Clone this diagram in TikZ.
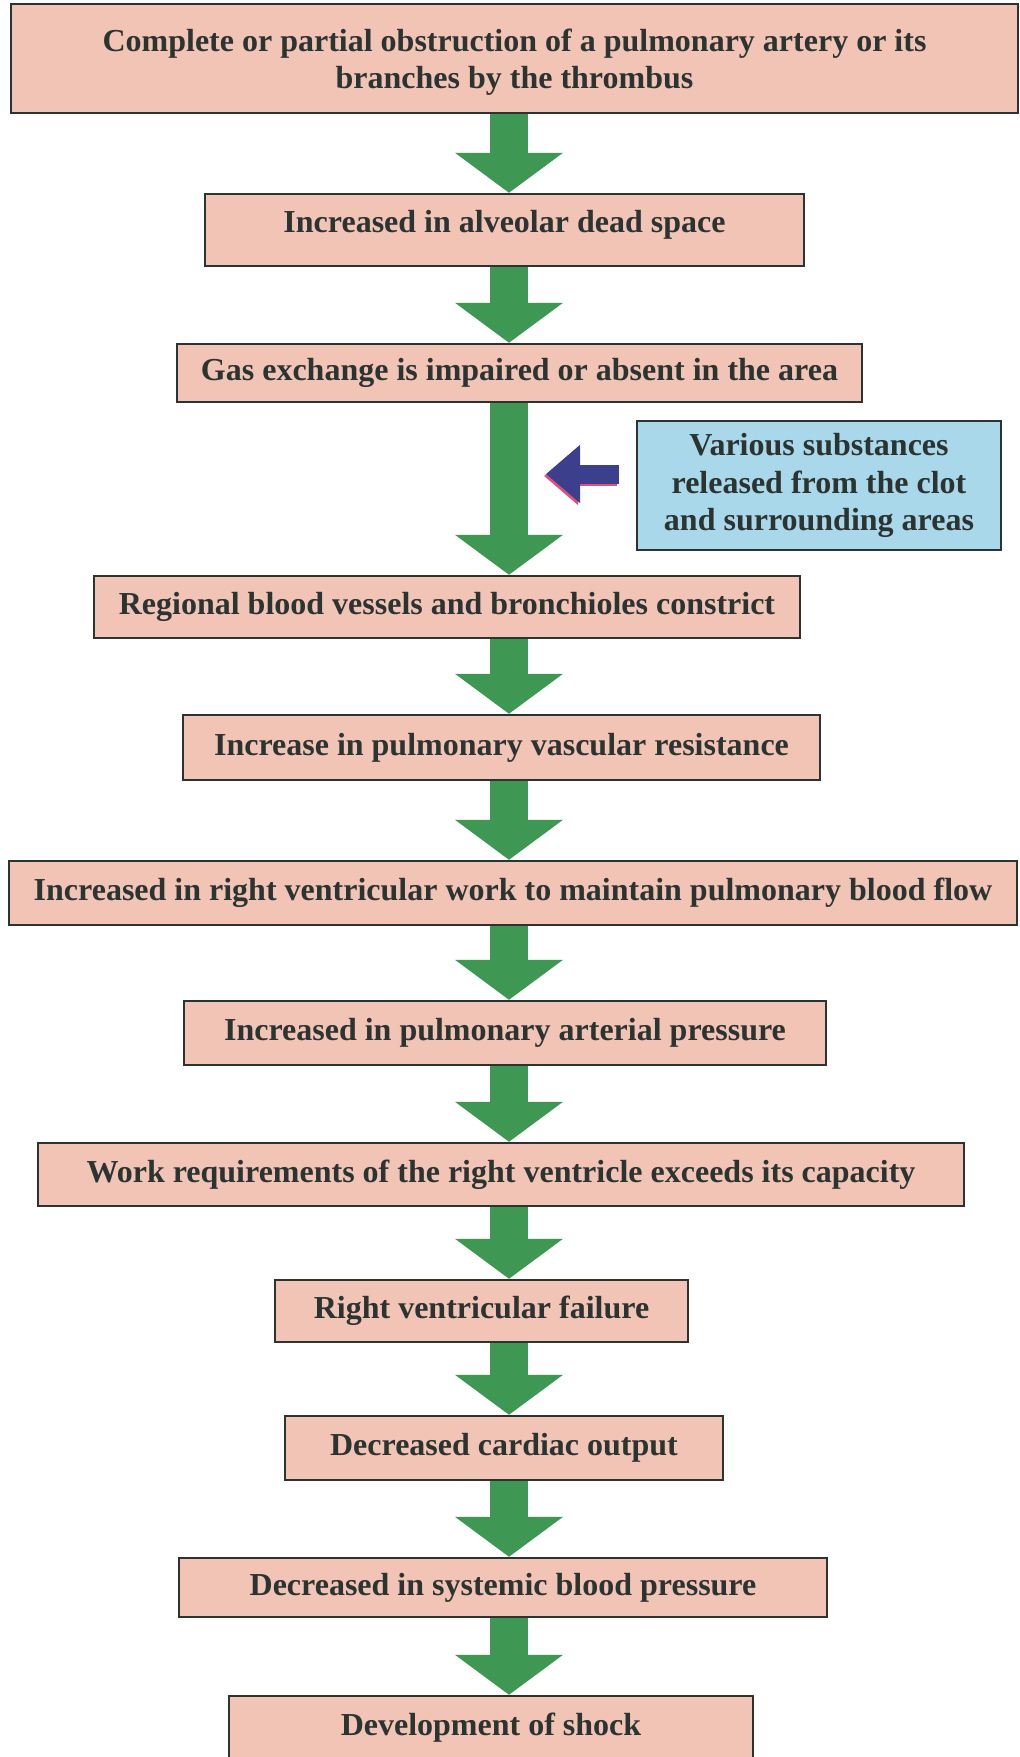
\documentclass[tikz,border=0pt]{standalone}
\usepackage{fontspec}
\setmainfont{Liberation Serif}
\usetikzlibrary{arrows.meta}
\definecolor{boxpink}{HTML}{F2C4B6}
\definecolor{boxblue}{HTML}{A9D8EA}
\definecolor{flowgreen}{HTML}{3E9753}
\definecolor{inkdark}{HTML}{2C3431}
\definecolor{pushblue}{HTML}{3B3F8C}
\definecolor{pushpink}{HTML}{E0507A}
% move a label up or down inside its box without changing the box
\newcommand\liftby[2]{\raisebox{#1}[\height][\depth]{#2}}
\tikzset{
  stage/.style={draw=inkdark, line width=1.2pt, fill=boxpink, inner sep=0pt,
    text=inkdark, align=center, font=\fontsize{16}{18.7}\selectfont\bfseries},
  note/.style={stage, fill=boxblue},
  flow/.style={draw=flowgreen, line width=19pt,
    -{Triangle[width=53pt,length=20pt]}},
  push/.style={draw=pushblue, line width=9.5pt,
    -{Triangle[width=28pt,length=17pt]}},
}
\begin{document}
\begin{tikzpicture}[x=0.5pt,y=-0.5pt]
\useasboundingbox (0,0) rectangle (1020,1757);
\clip (0,0) rectangle (1020,1757);
\fill[white] (0,0) rectangle (1020,1757);
\coordinate (ax) at (509,0);

\node[stage, minimum width=503.5pt, minimum height=54.5pt] (s1) at (514.5,58.5)
  {\liftby{-2pt}{\begin{tabular}{@{}c@{}}Complete or partial obstruction of a pulmonary artery or its\\branches by the thrombus\end{tabular}}};
\node[stage, minimum width=299.5pt, minimum height=36pt] (s2) at (504.5,230)
  {\liftby{2.6pt}{Increased in alveolar dead space}};
\node[stage, minimum width=342.5pt, minimum height=29pt] (s3) at (519.5,373)
  {Gas exchange is impaired or absent in the area};
\node[note, minimum width=182pt, minimum height=64.5pt] (sub) at (819,485.5)
  {Various substances\\released from the clot\\and surrounding areas};
\node[stage, minimum width=353pt, minimum height=31pt] (s4) at (447,607)
  {Regional blood vessels and bronchioles constrict};
\node[stage, minimum width=318.5pt, minimum height=32.5pt] (s5) at (501.5,747.5)
  {Increase in pulmonary vascular resistance};
\node[stage, minimum width=504pt, minimum height=32pt] (s6) at (513,893)
  {Increased in right ventricular work to maintain pulmonary blood flow};
\node[stage, minimum width=321pt, minimum height=32pt] (s7) at (505,1033)
  {Increased in pulmonary arterial pressure};
\node[stage, minimum width=463pt, minimum height=31.5pt] (s8) at (501,1174.5)
  {Work requirements of the right ventricle exceeds its capacity};
\node[stage, minimum width=206.5pt, minimum height=31pt] (s9) at (481.5,1311)
  {Right ventricular failure};
\node[stage, minimum width=219pt, minimum height=32pt] (s10) at (504,1448)
  {Decreased cardiac output};
\node[stage, minimum width=324pt, minimum height=29.5pt] (s11) at (503,1587.5)
  {Decreased in systemic blood pressure};
\node[stage, minimum width=262pt, minimum height=32pt] (s12) at (491,1728)
  {Development of shock};

% green flow arrows down the chain
\foreach \a/\b in {s1/s2,s2/s3,s3/s4,s4/s5,s5/s6,s6/s7,s7/s8,s8/s9,s9/s10,s10/s11,s11/s12}
  \draw[flow] (\a.south -| ax) -- (\b.north -| ax);

% side input from the released substances
\coordinate (pushtip) at (546,474);
\coordinate (pushtail) at (619,474);
\draw[push, draw=pushpink] ([shift={(-2,2)}]pushtail) -- ([shift={(-2,2)}]pushtip);
\draw[push] (pushtail) -- (pushtip);
\end{tikzpicture}
\end{document}
